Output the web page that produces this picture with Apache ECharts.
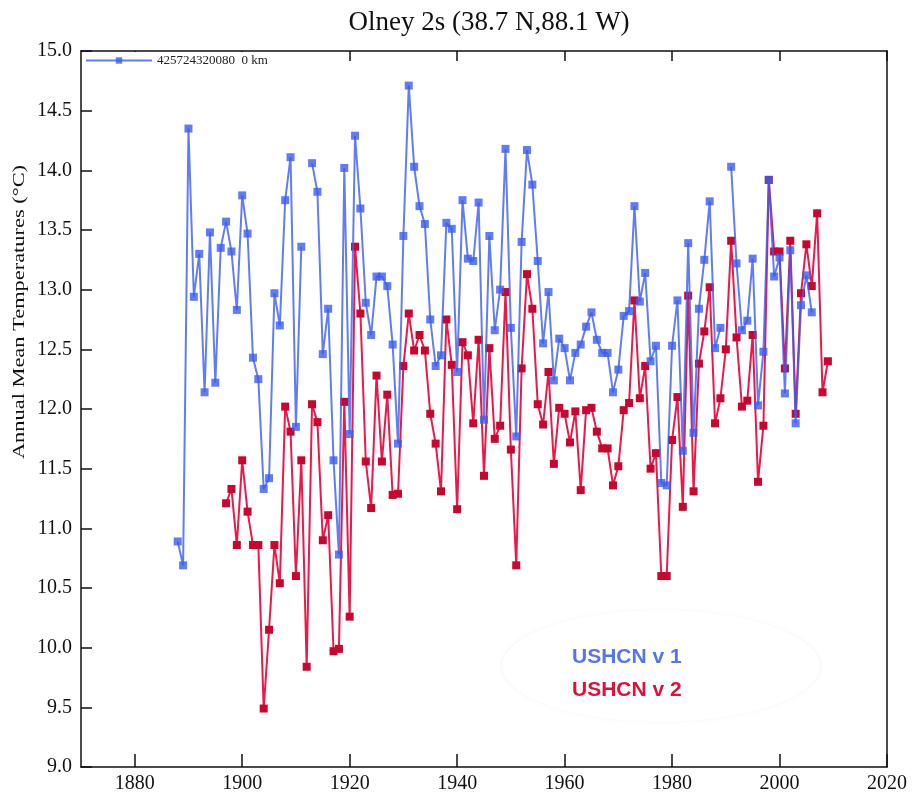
<!DOCTYPE html>
<html>
<head>
<meta charset="utf-8">
<script src="https://cdn.jsdelivr.net/npm/echarts@6/dist/echarts.min.js"></script>
<style>
html,body{margin:0;padding:0;background:#fff;}
#chart{width:913px;height:796px;}
</style>
</head>
<body>
<div id="chart"></div>
<script>
const years = [1888,1889,1890,1891,1892,1893,1894,1895,1896,1897,1898,1899,
1900,1901,1902,1903,1904,1905,1906,1907,1908,1909,1910,1911,1912,1913,1914,1915,1916,1917,1918,1919,
1920,1921,1922,1923,1924,1925,1926,1927,1928,1929,1930,1931,1932,1933,1934,1935,1936,1937,1938,1939,
1940,1941,1942,1943,1944,1945,1946,1947,1948,1949,1950,1951,1952,1953,1954,1955,1956,1957,1958,1959,
1960,1961,1962,1963,1964,1965,1966,1967,1968,1969,1970,1971,1972,1973,1974,1975,1976,1977,1978,1979,
1980,1981,1982,1983,1984,1985,1986,1987,1988,1989,1990,1991,1992,1993,1994,1995,1996,1997,1998,1999,
2000,2001,2002,2003,2004,2005,2006,2007,2008,2009];

// USHCN v1 (blue)
const v1 = [10.89,10.69,14.35,12.94,13.30,12.14,13.48,12.22,13.35,13.57,13.32,12.83,
13.79,13.47,12.43,12.25,11.33,11.42,12.97,12.70,13.75,14.11,11.85,13.36,null,14.06,13.82,12.46,12.84,11.57,10.78,14.02,
11.79,14.29,13.68,12.89,12.62,13.11,13.11,13.03,12.54,11.71,13.45,14.71,14.03,13.70,13.55,12.75,12.36,12.45,13.56,13.51,
12.31,13.75,13.26,13.24,13.73,11.91,13.45,12.66,13.00,14.18,12.68,11.77,13.40,14.17,13.88,13.24,12.55,12.98,12.24,12.59,
12.51,12.24,12.47,12.54,12.69,12.81,12.58,12.47,12.47,12.14,12.33,12.78,12.82,13.70,12.90,13.14,12.40,12.53,11.38,11.36,
12.53,12.91,11.65,13.39,11.80,12.84,13.25,13.74,12.51,12.68,null,14.03,13.22,12.66,12.74,13.26,12.03,12.48,13.92,13.11,
13.27,12.13,13.33,11.88,12.87,13.12,12.81,null,null,null];

// USHCN v2 (red)
const v2 = [null,null,null,null,null,null,null,null,null,11.21,11.33,10.86,
11.57,11.14,10.86,10.86,9.49,10.15,10.86,10.54,12.02,11.81,10.60,11.57,9.84,12.04,11.89,10.90,11.11,9.97,9.99,12.06,
10.26,13.36,12.80,11.56,11.17,12.28,11.56,12.12,11.28,11.29,12.36,12.80,12.49,12.62,12.49,11.96,11.71,11.31,12.75,12.37,
11.16,12.56,12.45,11.88,12.58,11.44,12.51,11.75,11.86,12.98,11.66,10.69,12.34,13.13,12.84,12.04,11.87,12.31,11.54,12.01,
11.96,11.72,11.98,11.32,11.99,12.01,11.81,11.67,11.67,11.36,11.52,11.99,12.05,12.91,12.09,12.36,11.50,11.63,10.60,10.60,
11.74,12.10,11.18,12.95,11.31,12.38,12.65,13.02,11.88,12.09,12.50,13.41,12.60,12.02,12.07,12.62,11.39,11.86,13.92,13.32,
13.32,12.34,13.41,11.96,12.97,13.38,13.03,13.64,12.14,12.40];

const xTicks = [1880,1900,1920,1940,1960,1980,2000,2020];
const seriesName1 = '425724320080  0 km';
const seriesName2 = 'USHCN v2';
const titleText = 'Olney 2s (38.7 N,88.1 W)';
const yName = 'Annual Mean Temperatures (\u00B0C)';
const note1 = 'USHCN v 1';
const note2 = 'USHCN v 2';

const serif = 'Liberation Serif, Times New Roman, serif';
const sans = 'Liberation Sans, Arial, sans-serif';

const d1 = years.map((y, i) => [y, v1[i]]);
const d2 = years.map((y, i) => [y, v2[i]]);

const chart = echarts.init(document.getElementById('chart'), null, {renderer: 'canvas'});

const axisLine = {show: true, lineStyle: {color: '#111', width: 1.5}};

chart.setOption({
  backgroundColor: '#fff',
  animation: false,
  title: {
    text: titleText,
    left: 484, top: 4, textAlign: 'center',
    textStyle: {fontFamily: serif, fontSize: 27, fontWeight: 'normal', color: '#111'}
  },
  legend: {
    data: [seriesName1],
    left: 83, top: 52,
    orient: 'horizontal',
    itemWidth: 66, itemHeight: 8,
    itemGap: 6,
    padding: [2, 8, 1, 2],
    backgroundColor: '#fff',
    textStyle: {fontFamily: serif, fontSize: 13, color: '#222'}
  },
  grid: {left: 81, right: 26, top: 51, bottom: 29, containLabel: false},
  xAxis: [{
    type: 'value', min: 1870, max: 2020, position: 'bottom',
    axisLine: axisLine,
    axisTick: {show: true, inside: true, length: 13, customValues: xTicks, lineStyle: {color: '#111', width: 1.5}},
    axisLabel: {show: true, customValues: xTicks, margin: 7, fontFamily: serif, fontSize: 20, color: '#111',
      formatter: v => String(v)},
    splitLine: {show: false}
  }, {
    type: 'value', min: 1870, max: 2020, position: 'top',
    axisLine: axisLine,
    axisTick: {show: true, inside: true, length: 10, customValues: xTicks, lineStyle: {color: '#111', width: 1.5}},
    axisLabel: {show: false},
    splitLine: {show: false}
  }],
  yAxis: [{
    type: 'value', min: 9, max: 15, interval: 0.5, position: 'left',
    axisLine: axisLine,
    axisTick: {show: true, inside: true, length: 11, lineStyle: {color: '#111', width: 1.5}},
    axisLabel: {margin: 9, fontFamily: serif, fontSize: 20, color: '#111', formatter: v => v.toFixed(1)},
    splitLine: {show: false}
  }, {
    type: 'value', min: 9, max: 15, interval: 0.5, position: 'right',
    axisLine: axisLine,
    axisTick: {show: false},
    axisLabel: {show: false},
    splitLine: {show: false}
  }],
  graphic: [
    {
      type: 'circle', shape: {cx: 0, cy: 0, r: 56}, x: 661, y: 666, scaleX: 2.85, scaleY: 1,
      style: {fill: '#fff', stroke: 'rgba(0,0,0,0.015)', lineWidth: 1, shadowBlur: 8, shadowColor: 'rgba(0,0,0,0.025)'},
      z: 1, silent: true
    },
    {
      type: 'text', x: 572, y: 657, z: 10,
      style: {text: note1, fontFamily: sans, fontWeight: 'bold', fontSize: 21, fill: '#5575ef', textVerticalAlign: 'middle'}
    },
    {
      type: 'text', x: 572, y: 690, z: 10,
      style: {text: note2, fontFamily: sans, fontWeight: 'bold', fontSize: 21, fill: '#e0103a', textVerticalAlign: 'middle'}
    },
    {
      type: 'text', x: 20, y: 312, rotation: Math.PI / 2, scaleX: 1.4, scaleY: 1,
      style: {text: yName, fontFamily: serif, fontSize: 16, fill: '#111', textAlign: 'center', textVerticalAlign: 'middle'}
    }
  ],
  series: [
    {
      name: seriesName2, type: 'line', data: d2,
      xAxisIndex: 0, yAxisIndex: 0,
      symbol: 'rect', symbolSize: 8, showSymbol: true,
      connectNulls: false,
      lineStyle: {color: '#ee1848', width: 2},
      itemStyle: {color: '#c8062e'},
      z: 2
    },
    {
      name: seriesName1, type: 'line', data: d1,
      xAxisIndex: 0, yAxisIndex: 0,
      symbol: 'rect', symbolSize: 8, showSymbol: true,
      connectNulls: false,
      lineStyle: {color: '#3a5cf0', width: 2, opacity: 0.8},
      itemStyle: {color: '#3a5cf0', opacity: 0.8},
      z: 3
    }
  ]
});
</script>
</body>
</html>
